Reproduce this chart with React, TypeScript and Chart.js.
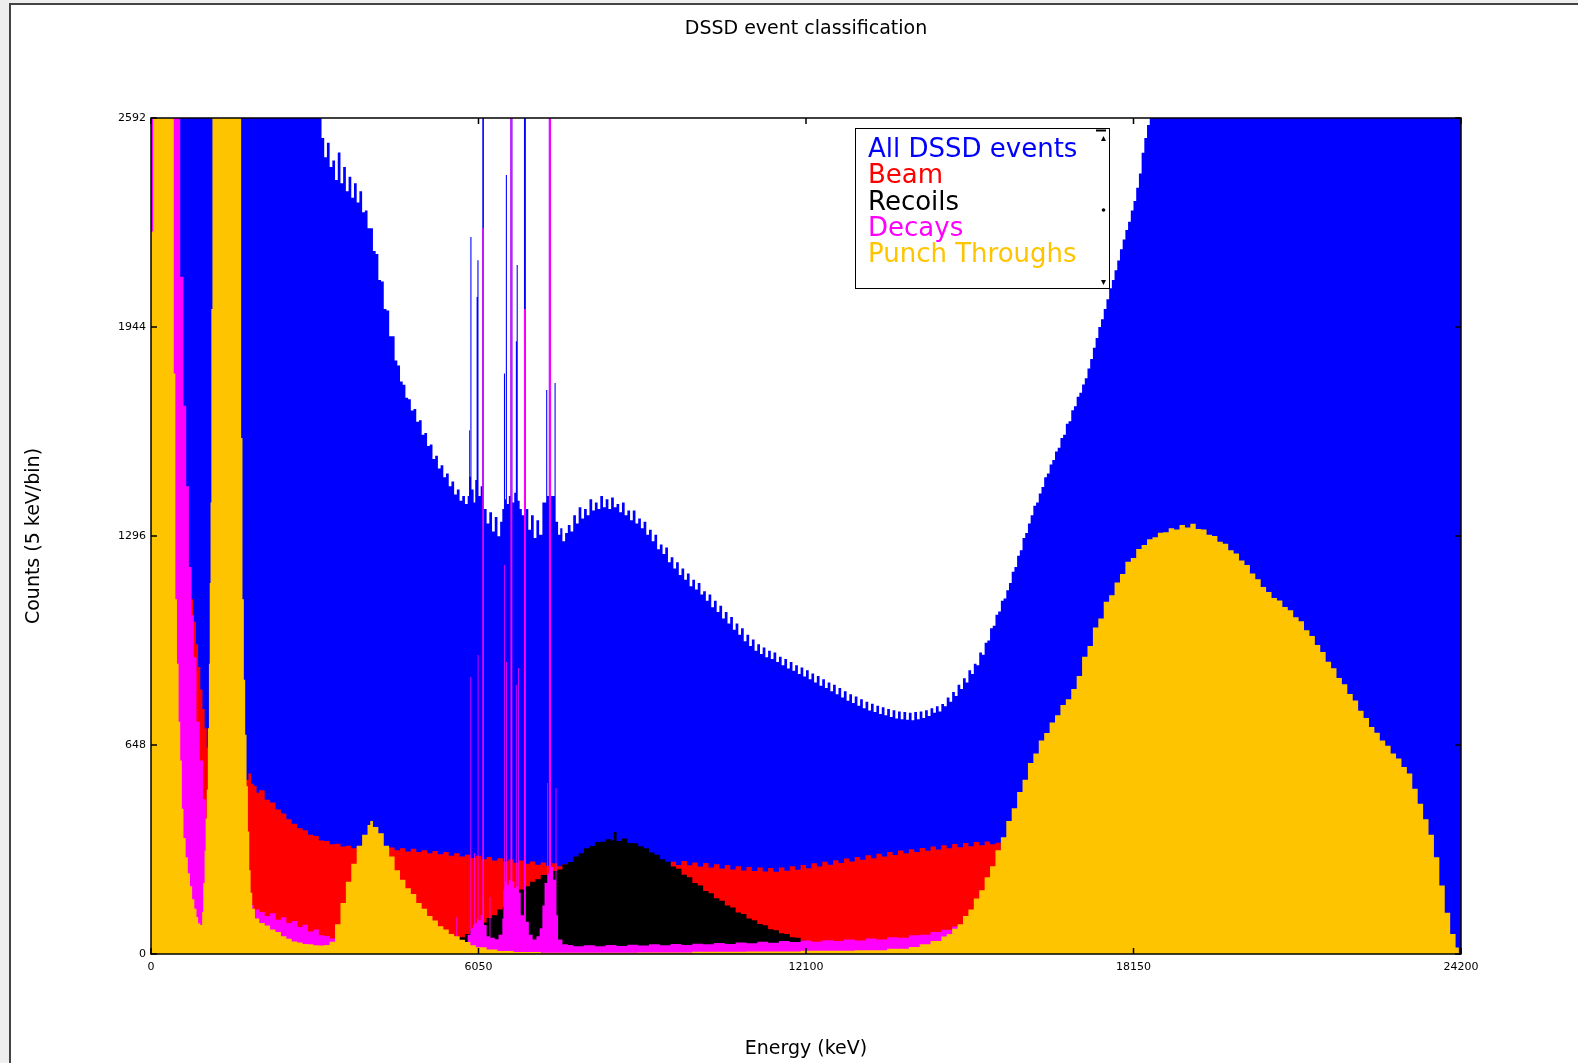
import React, { useEffect, useRef } from "react";
import { Chart, registerables } from "chart.js";

Chart.register(...registerables);

// Each bin is [lower edge in keV, counts]; a bin holds its count up to the next edge.
type Bin = [number, number];

const energyTicks = [0, 6050, 12100, 18150, 24200];
const countTicks = [0, 648, 1296, 1944, 2592];

const allEvents: Bin[] = [
  [0, 3000],
  [3150, 2530], [3200, 2470], [3250, 2515], [3300, 2440], [3350, 2460], [3400, 2400], [3450, 2485], [3500, 2390],
  [3550, 2440], [3600, 2365], [3650, 2410], [3700, 2345], [3750, 2390], [3800, 2330], [3850, 2365], [3900, 2300],
  [3950, 2305], [4000, 2250], [4050, 2250], [4100, 2180], [4150, 2170], [4200, 2090], [4250, 2085], [4300, 2000],
  [4350, 1995], [4400, 1915], [4450, 1915], [4500, 1840], [4550, 1825], [4600, 1775], [4650, 1765], [4700, 1725],
  [4750, 1720], [4800, 1685], [4850, 1690], [4900, 1650], [4950, 1655], [5000, 1610], [5050, 1615], [5100, 1575],
  [5150, 1580], [5200, 1535], [5250, 1545], [5300, 1505], [5350, 1515], [5400, 1478], [5450, 1490], [5500, 1450],
  [5550, 1465], [5600, 1425], [5650, 1440], [5700, 1405], [5750, 1420], [5800, 1395], [5850, 1420], [5875, 1624],
  [5890, 1480], [5900, 2223], [5920, 1440], [5960, 1400], [5990, 1470], [6015, 2037], [6030, 2151], [6050, 1420],
  [6090, 1450], [6120, 3000], [6150, 1380], [6200, 1335], [6250, 1370], [6300, 1310], [6350, 1355], [6400, 1295],
  [6450, 1340], [6490, 1380], [6520, 1800], [6540, 1410], [6555, 2415], [6575, 1395], [6610, 1420], [6640, 3000],
  [6675, 1400], [6710, 1430], [6740, 1900], [6755, 2136], [6775, 1405], [6810, 1380], [6850, 1360], [6890, 3000],
  [6925, 1380], [6970, 1315], [7020, 1360], [7070, 1290], [7120, 1345], [7170, 1300], [7230, 1400], [7300, 1749],
  [7320, 1420], [7350, 3000], [7390, 1420], [7455, 1770], [7475, 1340], [7520, 1300], [7560, 1320], [7600, 1280],
  [7650, 1305], [7700, 1330], [7750, 1310], [7800, 1360], [7850, 1335], [7900, 1385], [7950, 1350], [8000, 1380],
  [8050, 1360], [8100, 1410], [8150, 1375], [8200, 1400], [8250, 1380], [8300, 1420], [8350, 1385], [8400, 1410],
  [8450, 1380], [8500, 1415], [8550, 1385], [8600, 1395], [8650, 1370], [8700, 1400], [8750, 1360], [8800, 1375],
  [8850, 1345], [8900, 1375], [8950, 1335], [9000, 1350], [9050, 1320], [9100, 1340], [9150, 1300], [9200, 1315],
  [9250, 1280], [9300, 1300], [9350, 1255], [9400, 1270], [9450, 1240], [9500, 1260], [9550, 1215], [9600, 1230],
  [9650, 1195], [9700, 1215], [9750, 1175], [9800, 1195], [9850, 1160], [9900, 1180], [9950, 1140], [10000, 1160],
  [10050, 1130], [10100, 1150], [10150, 1115], [10200, 1125], [10250, 1095], [10300, 1115], [10350, 1075],
  [10400, 1095], [10450, 1060], [10500, 1080], [10550, 1040], [10600, 1060], [10650, 1025], [10700, 1045],
  [10750, 1005], [10800, 1025], [10850, 990], [10900, 1010], [10950, 970], [11000, 990], [11050, 955], [11100, 975],
  [11150, 940], [11200, 960], [11250, 930], [11300, 950], [11350, 920], [11400, 940], [11450, 915], [11500, 935],
  [11550, 905], [11600, 922], [11650, 895], [11700, 915], [11750, 885], [11800, 905], [11850, 878], [11900, 895],
  [11950, 868], [12000, 888], [12050, 860], [12100, 880], [12150, 852], [12200, 870], [12250, 842], [12300, 862],
  [12350, 832], [12400, 852], [12450, 825], [12500, 842], [12550, 815], [12600, 835], [12650, 805], [12700, 825],
  [12750, 795], [12800, 815], [12850, 785], [12900, 805], [12950, 778], [13000, 798], [13050, 770], [13100, 790],
  [13150, 762], [13200, 782], [13250, 755], [13300, 776], [13350, 750], [13400, 770], [13450, 744], [13500, 765],
  [13550, 740], [13600, 760], [13650, 735], [13700, 756], [13750, 730], [13800, 752], [13850, 728], [13900, 750],
  [13950, 726], [14000, 748], [14050, 725], [14100, 750], [14150, 728], [14200, 752], [14250, 732], [14300, 756],
  [14350, 738], [14400, 762], [14450, 748], [14500, 768], [14550, 752], [14600, 775], [14650, 768], [14700, 795],
  [14750, 782], [14800, 812], [14850, 800], [14900, 835], [14950, 822], [15000, 855], [15050, 842], [15100, 880],
  [15150, 868], [15200, 900], [15250, 895], [15300, 935], [15350, 928], [15400, 965], [15450, 972], [15500, 1010],
  [15550, 1018], [15600, 1052], [15650, 1062], [15700, 1095], [15750, 1102], [15800, 1128], [15850, 1150],
  [15900, 1185], [15950, 1200], [16000, 1235], [16050, 1252], [16100, 1290], [16150, 1305], [16200, 1335],
  [16250, 1360], [16300, 1390], [16350, 1400], [16400, 1428], [16450, 1448], [16500, 1478], [16550, 1490],
  [16600, 1518], [16650, 1532], [16700, 1558], [16750, 1570], [16800, 1600], [16850, 1610], [16900, 1644],
  [16950, 1652], [17000, 1686], [17050, 1698], [17100, 1728], [17150, 1740], [17200, 1766], [17250, 1785],
  [17300, 1815], [17350, 1845], [17400, 1880], [17450, 1910], [17500, 1944], [17550, 1968], [17600, 2000],
  [17650, 2030], [17700, 2064], [17750, 2090], [17800, 2120], [17850, 2150], [17900, 2185], [17950, 2215],
  [18000, 2245], [18050, 2270], [18100, 2305], [18150, 2335], [18200, 2376], [18250, 2420], [18300, 2484],
  [18350, 2530], [18400, 2570], [18450, 3000],
];

const beamEvents: Bin[] = [
  [0, 1100], [780, 1030], [830, 960], [870, 890], [910, 820], [950, 760], [990, 700], [1030, 640], [1080, 600],
  [1200, 580], [1700, 565], [1750, 540], [1800, 560], [1850, 528], [1900, 522], [1950, 500], [2000, 508], [2100, 478],
  [2200, 470], [2300, 448], [2400, 436], [2500, 418], [2600, 404], [2700, 390], [2800, 384], [2900, 370], [3000, 366],
  [3100, 352], [3200, 350], [3300, 340], [3400, 342], [3500, 333], [3600, 336], [3700, 328], [3800, 334], [3900, 326],
  [4000, 332], [4100, 325], [4200, 331], [4300, 324], [4400, 330], [4500, 322], [4600, 328], [4700, 318], [4800, 326],
  [4900, 316], [5000, 322], [5100, 312], [5200, 319], [5300, 309], [5400, 316], [5500, 305], [5600, 312], [5700, 302],
  [5800, 308], [5900, 298], [6000, 305], [6100, 294], [6200, 301], [6300, 290], [6400, 297], [6500, 287], [6600, 293],
  [6700, 283], [6800, 290], [6900, 280], [7000, 287], [7100, 277], [7200, 284], [7300, 274], [7400, 281], [7500, 272],
  [7600, 279], [7700, 270], [7800, 277], [8000, 272], [8200, 278], [8400, 270], [8600, 277], [8800, 269], [9000, 276],
  [9200, 268], [9400, 280], [9500, 272], [9600, 286], [9700, 276], [9800, 288], [9900, 275], [10000, 284], [10100, 271],
  [10200, 282], [10300, 268], [10400, 278], [10500, 265], [10600, 276], [10700, 262], [10800, 272], [10900, 259],
  [11000, 270], [11100, 257], [11200, 268], [11300, 256], [11400, 267], [11500, 255], [11600, 268], [11700, 258],
  [11800, 272], [11900, 261], [12000, 276], [12100, 266], [12200, 281], [12300, 271], [12400, 286], [12500, 277],
  [12600, 291], [12700, 282], [12800, 296], [12900, 287], [13000, 301], [13100, 292], [13200, 306], [13300, 297],
  [13400, 311], [13500, 302], [13600, 316], [13700, 307], [13800, 321], [13900, 312], [14000, 325], [14100, 316],
  [14200, 329], [14300, 320], [14400, 333], [14500, 324], [14600, 337], [14700, 328], [14800, 341], [14900, 331],
  [15000, 344], [15100, 334], [15200, 347], [15300, 337], [15400, 349], [15500, 340], [15600, 345], [15700, 300],
  [15800, 200], [15900, 100], [16000, 0],
];

const recoilEvents: Bin[] = [
  [0, 0], [5400, 18], [5500, 30], [5600, 40], [5700, 52], [5800, 62], [5900, 72], [6000, 85], [6100, 98], [6200, 112],
  [6300, 120], [6400, 138], [6500, 146], [6600, 167], [6700, 180], [6800, 200], [6900, 210], [7000, 224], [7100, 232],
  [7200, 245], [7300, 246], [7400, 257], [7500, 262], [7600, 278], [7700, 285], [7800, 302], [7900, 312], [8000, 328],
  [8100, 335], [8200, 347], [8300, 348], [8400, 356], [8500, 352], [8550, 378], [8600, 350], [8700, 358], [8800, 344],
  [8900, 343], [9000, 334], [9100, 328], [9200, 315], [9300, 308], [9400, 294], [9500, 286], [9600, 271], [9700, 264],
  [9800, 246], [9900, 238], [10000, 220], [10100, 212], [10200, 195], [10300, 188], [10400, 173], [10500, 165],
  [10600, 150], [10700, 144], [10800, 129], [10900, 124], [11000, 110], [11100, 105], [11200, 93], [11300, 89],
  [11400, 77], [11500, 74], [11600, 64], [11700, 62], [11800, 52], [11900, 50], [12000, 42], [12100, 36], [12300, 28],
  [12500, 20], [12800, 0],
];

const decayEvents: Bin[] = [
  [0, 3000], [540, 2100], [600, 1700], [650, 1450], [700, 1200], [750, 1050], [790, 920], [840, 720], [900, 600],
  [960, 480], [1020, 380], [1100, 300], [1700, 175], [1800, 152], [1900, 138], [2000, 130], [2100, 118], [2200, 126],
  [2300, 106], [2400, 114], [2500, 96], [2600, 102], [2700, 84], [2800, 91], [2900, 70], [3000, 76], [3100, 58],
  [3200, 56], [3300, 48], [3400, 45], [3600, 42], [3800, 40], [4000, 38], [4200, 37], [4400, 36], [4500, 35],
  [4600, 38], [4700, 32], [4800, 34], [4900, 30], [5000, 33], [5100, 28], [5200, 31], [5300, 26], [5400, 29],
  [5500, 24], [5600, 28], [5640, 115], [5655, 26], [5700, 25], [5800, 35], [5850, 60], [5900, 859], [5915, 80],
  [5950, 90], [5970, 313], [5985, 95], [6020, 110], [6035, 927], [6050, 105], [6090, 120], [6120, 2250], [6150, 90],
  [6200, 55], [6255, 177], [6270, 50], [6350, 46], [6420, 60], [6490, 110], [6510, 200], [6525, 1206], [6540, 225],
  [6560, 905], [6575, 215], [6610, 230], [6640, 3000], [6675, 225], [6710, 205], [6740, 834], [6755, 210], [6780, 887],
  [6795, 190], [6830, 120], [6890, 2000], [6925, 100], [6980, 60], [7050, 45], [7120, 55], [7180, 80], [7230, 150],
  [7270, 220], [7320, 530], [7335, 250], [7350, 3000], [7390, 270], [7430, 230], [7475, 515], [7490, 120], [7520, 45],
  [7600, 30], [7700, 28], [7800, 24], [8000, 27], [8200, 24], [8400, 28], [8600, 25], [8800, 29], [9000, 26],
  [9200, 30], [9400, 27], [9600, 31], [9800, 28], [10000, 32], [10200, 30], [10400, 34], [10600, 31], [10800, 36],
  [11000, 33], [11200, 38], [11400, 35], [11600, 40], [11800, 37], [12000, 42], [12200, 38], [12400, 43], [12600, 40],
  [12800, 45], [13000, 42], [13200, 48], [13400, 45], [13600, 52], [13800, 50], [14000, 58], [14200, 60], [14400, 68],
  [14600, 75], [14800, 85], [15000, 95], [15200, 105], [15400, 110], [15600, 100], [15800, 60], [16000, 0],
];

const punchThroughEvents: Bin[] = [
  [0, 2240], [40, 3000], [420, 1800], [450, 1100], [480, 900], [510, 720], [540, 600], [570, 450], [600, 360],
  [640, 300], [680, 250], [720, 210], [760, 170], [800, 140], [840, 115], [870, 95], [910, 90], [945, 130], [965, 220],
  [990, 320], [1010, 420], [1030, 510], [1050, 700], [1070, 900], [1085, 1150], [1100, 1400], [1115, 2000],
  [1135, 3000], [1665, 1600], [1690, 1100], [1715, 850], [1740, 680], [1765, 520], [1790, 380], [1815, 260],
  [1840, 190], [1870, 140], [1920, 110], [2000, 96], [2100, 88], [2200, 76], [2300, 68], [2400, 55], [2500, 47],
  [2600, 39], [2700, 36], [2800, 31], [2900, 30], [3000, 27], [3100, 26], [3200, 28], [3300, 38], [3400, 92],
  [3500, 158], [3600, 224], [3700, 280], [3800, 336], [3900, 370], [4000, 400], [4050, 412], [4100, 394], [4200, 374],
  [4300, 336], [4400, 302], [4500, 260], [4600, 230], [4700, 204], [4800, 186], [4900, 158], [5000, 140], [5100, 118],
  [5200, 104], [5300, 86], [5400, 76], [5500, 62], [5600, 55], [5700, 44], [5800, 37], [5900, 27], [6000, 21],
  [6200, 14], [6400, 9], [6700, 6], [7200, 4], [9000, 5], [10000, 7], [11000, 8], [12000, 10], [13000, 12],
  [13600, 16], [14000, 22], [14200, 30], [14400, 40], [14600, 54], [14700, 62], [14800, 78], [14900, 92], [15000, 118],
  [15100, 138], [15200, 172], [15300, 198], [15400, 238], [15500, 272], [15600, 322], [15700, 362], [15800, 412],
  [15900, 452], [16000, 502], [16100, 540], [16200, 592], [16300, 622], [16400, 662], [16500, 685], [16600, 718],
  [16700, 740], [16800, 772], [16900, 790], [17000, 822], [17100, 862], [17200, 922], [17300, 955], [17400, 1012],
  [17500, 1040], [17600, 1092], [17700, 1112], [17800, 1152], [17900, 1178], [18000, 1216], [18100, 1228],
  [18200, 1256], [18300, 1268], [18400, 1286], [18500, 1292], [18600, 1306], [18700, 1308], [18800, 1320],
  [18900, 1316], [19000, 1330], [19100, 1322], [19200, 1334], [19300, 1318], [19400, 1316], [19500, 1300],
  [19600, 1296], [19700, 1278], [19800, 1272], [19900, 1252], [20000, 1242], [20100, 1220], [20200, 1206],
  [20300, 1180], [20400, 1162], [20500, 1138], [20600, 1122], [20700, 1104], [20800, 1096], [20900, 1076],
  [21000, 1066], [21100, 1044], [21200, 1032], [21300, 1004], [21400, 986], [21500, 958], [21600, 936], [21700, 906],
  [21800, 886], [21900, 856], [22000, 836], [22100, 806], [22200, 786], [22300, 754], [22400, 732], [22500, 704],
  [22600, 686], [22700, 662], [22800, 646], [22900, 622], [23000, 606], [23100, 580], [23200, 560], [23300, 512],
  [23400, 466], [23500, 418], [23600, 370], [23700, 300], [23800, 212], [23900, 128], [24000, 62], [24100, 20],
  [24160, 0],
];

const seriesLabels = ["All DSSD events", "Beam", "Recoils", "Decays", "Punch Throughs"];
const seriesColors = ["#0000ff", "#ff0000", "#000000", "#ff00ff", "#ffc400"];
const seriesBins = [allEvents, beamEvents, recoilEvents, decayEvents, punchThroughEvents];

const FONT = '"DejaVu Sans", "Liberation Sans", sans-serif';
const ENERGY_MAX = energyTicks[energyTicks.length - 1];
const COUNT_MAX = countTicks[countTicks.length - 1];

// Histogram outline: each bin edge becomes a step, closed at the last energy.
function toSteps(bins: Bin[]) {
  const pts = bins.map(([e, c]) => ({ x: e, y: c }));
  pts.push({ x: ENERGY_MAX, y: bins[bins.length - 1][1] });
  return pts;
}

const framePlugin = {
  id: "dssdFrame",
  afterDraw(chart: any) {
    const { ctx, chartArea: a, scales } = chart;
    ctx.save();

    // plot frame and inward tick marks on all four sides
    ctx.strokeStyle = "#000";
    ctx.lineWidth = 1.5;
    ctx.strokeRect(a.left, a.top, a.right - a.left, a.bottom - a.top);
    ctx.beginPath();
    for (const v of energyTicks) {
      const x = scales.x.getPixelForValue(v);
      ctx.moveTo(x, a.bottom);
      ctx.lineTo(x, a.bottom - 6);
      ctx.moveTo(x, a.top);
      ctx.lineTo(x, a.top + 6);
    }
    for (const v of countTicks) {
      const y = scales.y.getPixelForValue(v);
      ctx.moveTo(a.left, y);
      ctx.lineTo(a.left + 6, y);
      ctx.moveTo(a.right, y);
      ctx.lineTo(a.right - 6, y);
    }
    ctx.stroke();

    // title and axis titles
    const cx = (a.left + a.right) / 2;
    const cy = (a.top + a.bottom) / 2;
    ctx.fillStyle = "#000";
    ctx.font = `19px ${FONT}`;
    ctx.textAlign = "center";
    ctx.textBaseline = "middle";
    ctx.fillText("DSSD event classification", cx, 29);
    ctx.fillText("Energy (keV)", cx, a.bottom + 95);
    ctx.save();
    ctx.translate(34, cy);
    ctx.rotate(-Math.PI / 2);
    ctx.fillText("Counts (5 keV/bin)", 0, 0);
    ctx.restore();

    // legend box
    const lx = a.left + 704;
    const ly = a.top + 10;
    const lw = 254;
    const lh = 160;
    ctx.fillStyle = "#fff";
    ctx.fillRect(lx, ly, lw, lh);
    ctx.strokeStyle = "#000";
    ctx.lineWidth = 1;
    ctx.strokeRect(lx + 0.5, ly + 0.5, lw, lh);

    ctx.font = `26px ${FONT}`;
    ctx.textAlign = "left";
    ctx.textBaseline = "alphabetic";
    chart.data.datasets.forEach((ds: any, i: number) => {
      ctx.fillStyle = ds.borderColor;
      ctx.fillText(ds.label, lx + 13, ly + 29 + i * 26.25);
    });

    // scroll marks along the legend's right edge
    const sx = lx + 251;
    ctx.fillStyle = "#000";
    ctx.fillRect(sx - 10, ly + 1.5, 10, 2);
    ctx.beginPath();
    ctx.moveTo(sx - 2.5, ly + 8);
    ctx.lineTo(sx - 5, ly + 13);
    ctx.lineTo(sx, ly + 13);
    ctx.closePath();
    ctx.fill();
    ctx.beginPath();
    ctx.arc(sx - 2.5, ly + 82, 1.8, 0, Math.PI * 2);
    ctx.fill();
    ctx.beginPath();
    ctx.moveTo(sx - 5, ly + 152);
    ctx.lineTo(sx, ly + 152);
    ctx.lineTo(sx - 2.5, ly + 157);
    ctx.closePath();
    ctx.fill();

    ctx.restore();
  },
};

export default function App() {
  const canvasRef = useRef<HTMLCanvasElement>(null);

  useEffect(() => {
    const canvas = canvasRef.current;
    if (!canvas) return;
    const chart = new Chart(canvas, {
      type: "line",
      data: {
        datasets: seriesLabels.map((label, i) => ({
          label,
          data: toSteps(seriesBins[i]),
          stepped: "before",
          fill: "origin",
          backgroundColor: seriesColors[i],
          borderColor: seriesColors[i],
          borderWidth: 0,
          pointRadius: 0,
          pointHoverRadius: 0,
          order: seriesLabels.length - i,
        })),
      },
      options: {
        responsive: false,
        animation: false,
        devicePixelRatio: 1,
        events: [],
        layout: { padding: { left: 0, top: 118, right: 117, bottom: 0 } },
        plugins: {
          legend: { display: false },
          tooltip: { enabled: false },
          title: { display: false },
        },
        scales: {
          x: {
            type: "linear",
            min: 0,
            max: ENERGY_MAX,
            afterBuildTicks: (axis: any) => {
              axis.ticks = energyTicks.map((value) => ({ value }));
            },
            afterFit: (axis: any) => {
              axis.height = 109;
            },
            grid: { display: false, drawTicks: false },
            border: { display: false },
            ticks: {
              autoSkip: false,
              maxRotation: 0,
              padding: 7,
              color: "#000",
              font: { family: FONT, size: 11 },
              callback: (v: any) => String(v),
            },
          },
          y: {
            type: "linear",
            min: 0,
            max: COUNT_MAX,
            afterBuildTicks: (axis: any) => {
              axis.ticks = countTicks.map((value) => ({ value }));
            },
            afterFit: (axis: any) => {
              axis.width = 151;
            },
            grid: { display: false, drawTicks: false },
            border: { display: false },
            ticks: {
              autoSkip: false,
              padding: 5,
              color: "#000",
              font: { family: FONT, size: 11 },
              callback: (v: any) => String(v),
            },
          },
        },
      },
      plugins: [framePlugin],
    } as any);
    return () => chart.destroy();
  }, []);

  return (
    <div style={{ position: "fixed", inset: 0, background: "#eeeeee", overflow: "hidden" }}>
      <div
        style={{
          position: "absolute",
          left: 9,
          top: 3,
          width: 1700,
          height: 1200,
          background: "#ffffff",
          border: "2px solid #444444",
          boxSizing: "border-box",
        }}
      />
      <canvas
        ref={canvasRef}
        width={1578}
        height={1063}
        style={{ position: "absolute", left: 0, top: 0, width: 1578, height: 1063 }}
      />
    </div>
  );
}
